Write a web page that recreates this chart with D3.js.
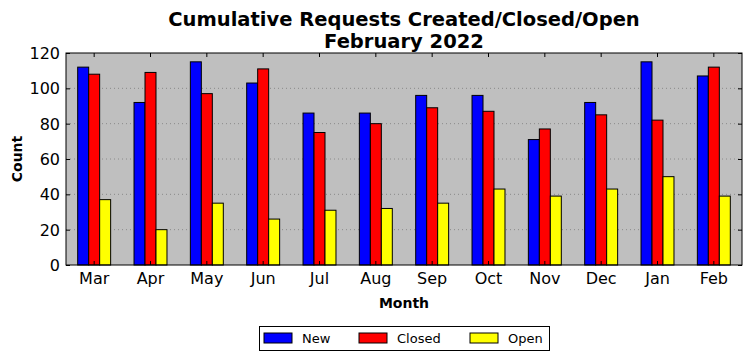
<!DOCTYPE html>
<html><head><meta charset="utf-8">
<script src="https://cdn.jsdelivr.net/npm/d3@7"></script>
<style>body{margin:0;background:#fff}svg{display:block;font-family:"DejaVu Sans",sans-serif}</style>
</head><body><svg id="c" width="752" height="361"></svg>
<script>
const months = ["Mar","Apr","May","Jun","Jul","Aug","Sep","Oct","Nov","Dec","Jan","Feb"];
const newVals = [112,92,115,103,86,86,96,96,71,92,115,107];
const closedVals = [108,109,97,111,75,80,89,87,77,85,82,112];
const openVals = [37,20,35,26,31,32,35,43,39,43,50,39];
const seriesNames = ["New","Closed","Open"];
const seriesColors = ["#0000ff","#ff0000","#ffff00"];
const yTicks = [0,20,40,60,80,100,120];

const svg = d3.select("#c");
const L=66,R=742,T=53,B=265;
const x = d3.scaleBand().domain(months).range([L,R]).paddingInner(0).paddingOuter(0);
const y = d3.scaleLinear().domain([0,120]).range([B,T]);
const series = [newVals,closedVals,openVals];
const bw = x.bandwidth()*0.195;

svg.append("rect").attr("x",L).attr("y",T).attr("width",R-L).attr("height",B-T).attr("fill","#bfbfbf");
// grid
svg.append("g").selectAll("line").data(yTicks.slice(1,-1)).join("line")
  .attr("x1",L).attr("x2",R).attr("y1",d=>y(d)).attr("y2",d=>y(d))
  .attr("stroke","#8a8a8a").attr("stroke-dasharray","1,3").attr("stroke-width",1);

const g = svg.append("g");
series.forEach((vals,si)=>{
  g.append("g").selectAll("rect").data(vals).join("rect")
    .attr("x",(d,i)=>x(months[i])+x.bandwidth()/2-1.5*bw+si*bw)
    .attr("y",d=>y(d)).attr("width",bw).attr("height",d=>B-y(d))
    .attr("fill",seriesColors[si]).attr("stroke","#000").attr("stroke-width",1);
});

svg.append("rect").attr("x",L).attr("y",T).attr("width",R-L).attr("height",B-T).attr("fill","none").attr("stroke","#000").attr("stroke-width",1);

// axes
const xa = svg.append("g").attr("transform",`translate(0,${B})`).call(d3.axisBottom(x).tickSizeInner(-4).tickSizeOuter(0).tickPadding(8));
const xt = svg.append("g").attr("transform",`translate(0,${T})`).call(d3.axisTop(x).tickSizeInner(-4).tickSizeOuter(0).tickFormat(""));
const ya = svg.append("g").attr("transform",`translate(${L},0)`).call(d3.axisLeft(y).tickValues(yTicks).tickSizeInner(-4).tickSizeOuter(0).tickPadding(6));
const yr = svg.append("g").attr("transform",`translate(${R},0)`).call(d3.axisRight(y).tickValues(yTicks).tickSizeInner(-4).tickSizeOuter(0).tickFormat(""));
[xa,xt,ya,yr].forEach(a=>{a.select(".domain").remove();a.selectAll("line").attr("stroke","#000");a.selectAll("text").attr("font-size",16).attr("font-family","DejaVu Sans").attr("fill","#000");});
ya.selectAll("text").attr("dy","0.35em");

// titles
svg.append("text").attr("x",404).attr("y",26).attr("text-anchor","middle").attr("font-size",19.5).attr("font-weight","bold").text("Cumulative Requests Created/Closed/Open");
svg.append("text").attr("x",404).attr("y",48).attr("text-anchor","middle").attr("font-size",19.5).attr("font-weight","bold").text("February 2022");
svg.append("text").attr("x",404).attr("y",308).attr("text-anchor","middle").attr("font-size",14).attr("font-weight","bold").text("Month");
svg.append("text").attr("transform","translate(22,159) rotate(-90)").attr("text-anchor","middle").attr("font-size",14).attr("font-weight","bold").text("Count");

// legend
const lg = svg.append("g");
lg.append("rect").attr("x",259.5).attr("y",326.5).attr("width",290).attr("height",24).attr("fill","#fff").attr("stroke","#000");
const lx=[264,359,470];
seriesNames.forEach((n,i)=>{
  lg.append("rect").attr("x",lx[i]).attr("y",333).attr("width",28).attr("height",10).attr("fill",seriesColors[i]).attr("stroke","#000");
  lg.append("text").attr("x",lx[i]+38).attr("y",343).attr("font-size",13).text(n);
});
</script></body></html>
